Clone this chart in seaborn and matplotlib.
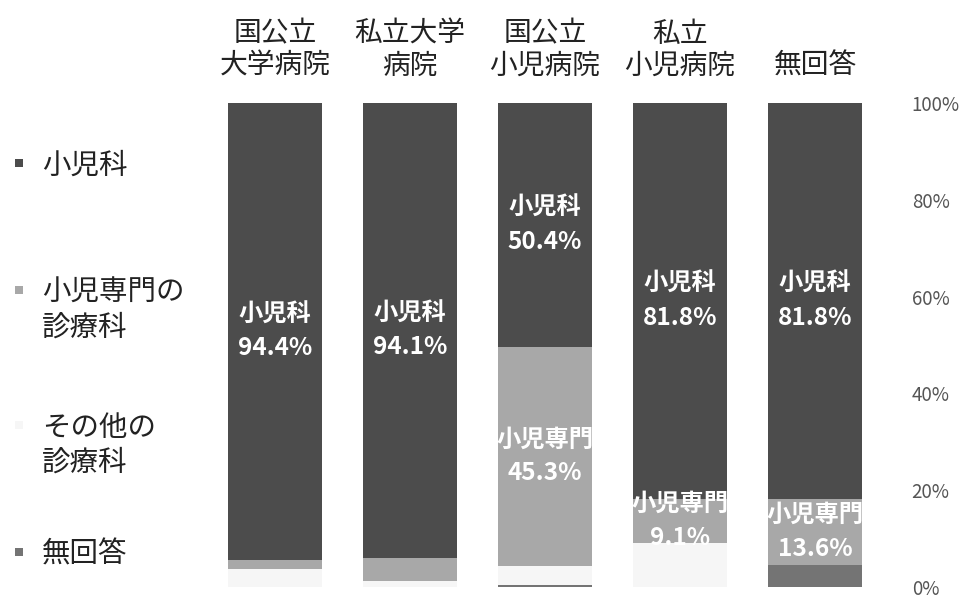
import numpy as np
import pandas as pd
import matplotlib
matplotlib.use('Agg')
import matplotlib.pyplot as plt
import seaborn as sns
from matplotlib.patches import Rectangle

hospitals = ['国公立\n大学病院', '私立大学\n病院', '国公立\n小児病院', '私立\n小児病院', '無回答']
depts = ['小児科', '小児専門の\n診療科', 'その他の\n診療科', '無回答']
short_names = ['小児科', '小児専門', '', '']

shonika = [94.4, 94.1, 50.4, 81.8, 81.8]
senmon = [1.9, 4.7, 45.3, 9.1, 13.6]
sonota = [3.7, 1.2, 3.9, 9.1, 0.0]
mukaito = [0.0, 0.0, 0.4, 0.0, 4.6]

colors = ['#4c4c4c', '#a8a8a8', '#f6f6f6', '#747474']

sns.set_style('white')
plt.rcParams['font.family'] = ['Noto Sans CJK JP', 'DejaVu Sans']

df = pd.DataFrame({'hospital': hospitals, '小児科': shonika, '小児専門': senmon,
                   'その他': sonota, '無回答': mukaito})
series = ['小児科', '小児専門', 'その他', '無回答']

W, H = 962, 599
fig = plt.figure(figsize=(W / 100, H / 100), dpi=100)
ax = fig.add_axes([207.5 / W, 12 / H, 675 / W, 484 / H])

# stacked: 無回答 at bottom, 小児科 on top -> draw cumulative totals, tallest first
cum = df[series[::-1]].cumsum(axis=1)
for s, c in zip(series, colors):
    sns.barplot(x=df['hospital'], y=cum[s], color=c, width=0.7, ax=ax,
                saturation=1, linewidth=0)

# labels inside segments
for i in range(len(hospitals)):
    for s, name in zip(series, short_names):
        v = df.loc[i, s]
        if name and v > 5:
            top = cum.loc[i, s]
            mid = top - v / 2
            ax.text(i, mid, f'{name}\n{v:.1f}%', ha='center', va='center',
                    color='white', fontsize=17.5, fontweight='bold', linespacing=1.5)

ax.set_ylim(0, 100)
ax.set_xlim(-0.5, 4.5)
ax.set_xlabel('')
ax.set_ylabel('')
ax.xaxis.tick_top()
ax.yaxis.tick_right()
ax.set_yticks(np.arange(0, 101, 20))
ax.set_yticklabels([f'{t}%' for t in range(0, 101, 20)])
ax.tick_params(axis='x', length=0, pad=16, labelsize=20, labelcolor='#222222')
ax.tick_params(axis='y', length=0, pad=21, labelsize=13.5, labelcolor='#555555')
for lbl in ax.get_yticklabels():
    lbl.set_horizontalalignment('left')
    lbl.set_verticalalignment('center_baseline')
for lbl in ax.get_xticklabels():
    lbl.set_linespacing(1.1)
for sp in ax.spines.values():
    sp.set_visible(False)

# legend on the left, entries evenly spaced by their first line
legend_y = [163, 290, 425, 552]
for lab, c, y in zip(depts, colors, legend_y):
    fig.patches.append(Rectangle((15 / W, 1 - (y + 4) / H), 8 / W, 8 / H,
                                 transform=fig.transFigure, facecolor=c, edgecolor='none'))
    fig.text(42 / W, 1 - (y - 12) / H, lab, ha='left', va='top', fontsize=20.5,
             color='#222222', linespacing=1.22)

fig.savefig('out.png', dpi=100)
